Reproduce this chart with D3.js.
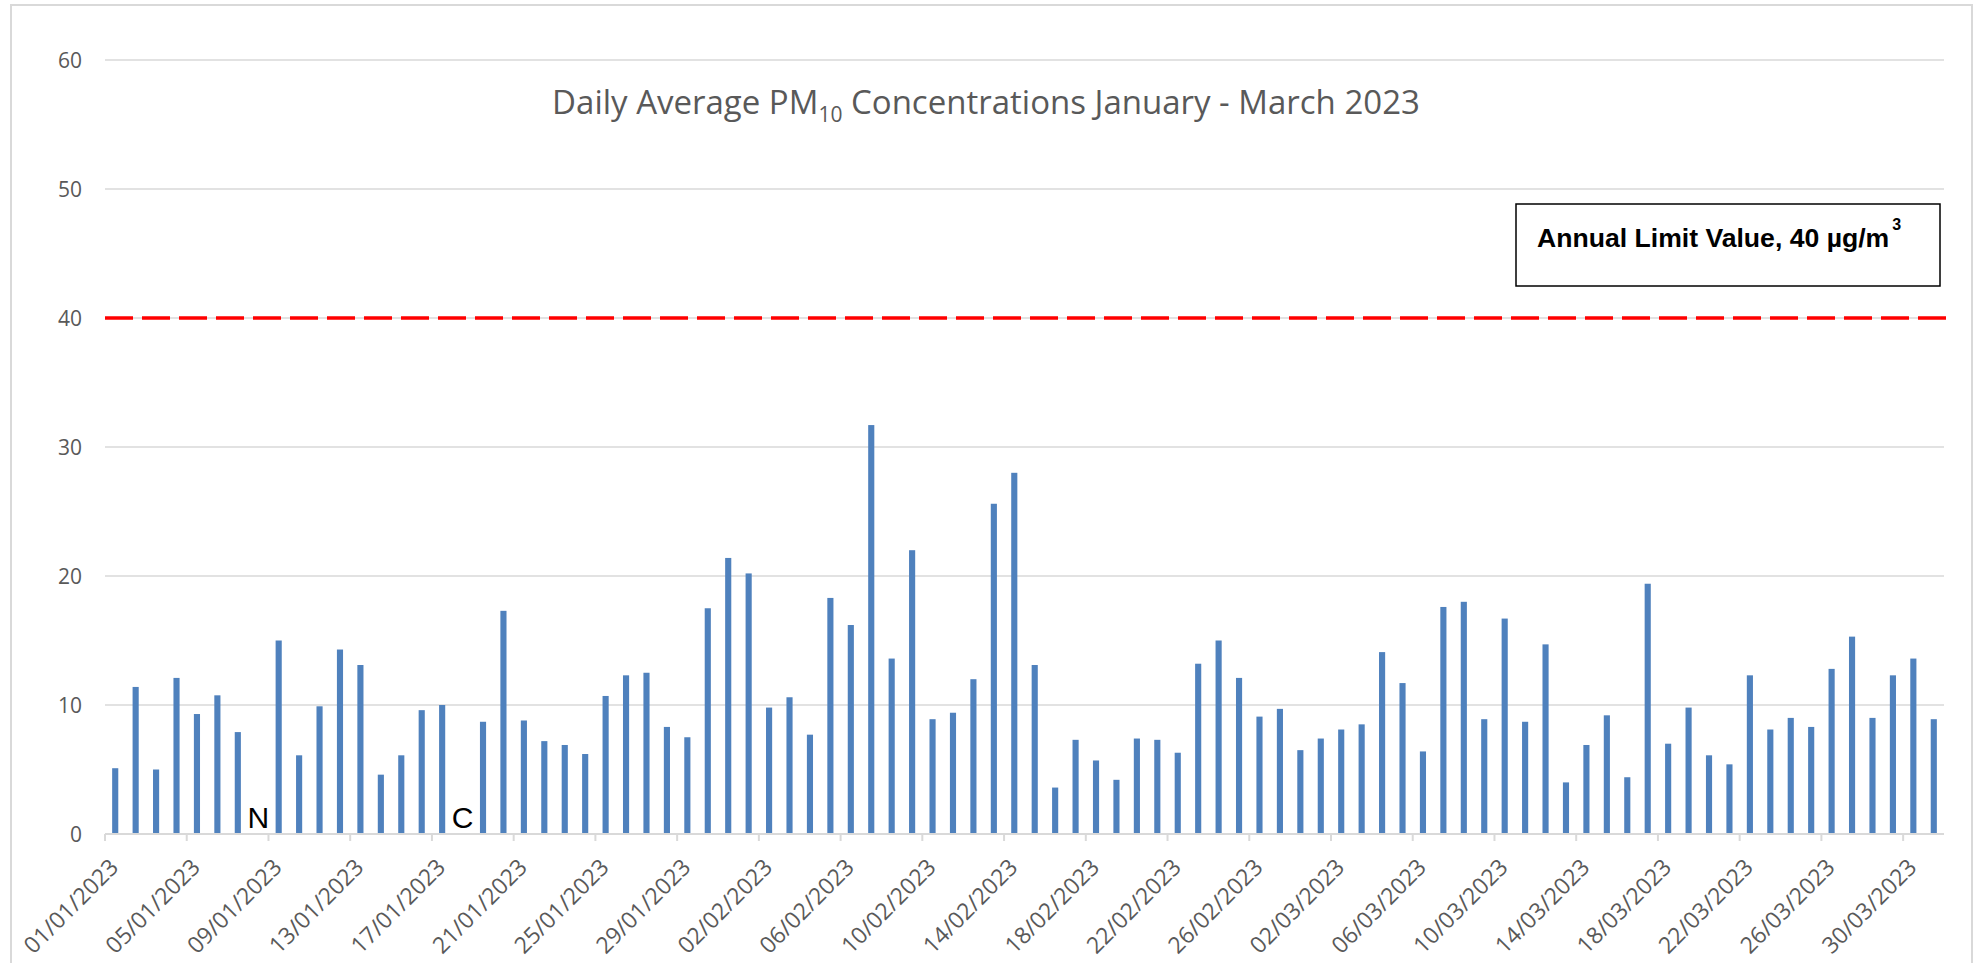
<!DOCTYPE html>
<html><head><meta charset="utf-8">
<script src="https://cdn.jsdelivr.net/npm/d3@7"></script>
<style>
html,body{margin:0;padding:0;background:#fff;overflow:hidden}
svg text{font-family:"Open Sans",sans-serif}
svg text.arial{font-family:"Liberation Sans",Arial,sans-serif}
</style></head>
<body>
<svg id="chart" width="1975" height="963"></svg>
<script>
// ---- data ----
const dates = [];
(function(){
  const days = [["01",31],["02",28],["03",31]];
  for (const [m,n] of days) for (let d=1; d<=n; d++) dates.push(String(d).padStart(2,"0")+"/"+m+"/2023");
})();
const janValues = [5.1,11.4,5.0,12.1,9.3,10.75,7.9,null,15.0,6.1,9.9,14.3,13.1,4.6,6.1,9.6,10.0,null,8.7,17.3,8.8,7.2,6.9,6.2,10.7,12.3,12.5,8.3,7.5,17.5,21.4];
const febValues = [20.2,9.8,10.6,7.7,18.3,16.2,31.7,13.6,22.0,8.9,9.4,12.0,25.6,28.0,13.1,3.6,7.3,5.7,4.2,7.4,7.3,6.3,13.2,15.0,12.1,9.1,9.7,6.5];
const marValues = [7.4,8.1,8.5,14.1,11.7,6.4,17.6,18.0,8.9,16.7,8.7,14.7,4.0,6.9,9.2,4.4,19.4,7.0,9.8,6.1,5.4,12.3,8.1,9.0,8.3,12.8,15.3,9.0,12.3,13.6,8.9];
const values = janValues.concat(febValues, marValues);
const flags = [{date:"08/01/2023", code:"N"},{date:"18/01/2023", code:"C"}];
const yTicks = [0,10,20,30,40,50,60];
const limitValue = 40;
const titleMain = "Daily Average PM";
const titleSub = "10";
const titleRest = " Concentrations January - March 2023";
const limitLabel = "Annual Limit Value, 40 µg/m";
const limitSup = "3";

// ---- layout ----
const svg = d3.select("#chart");
const L = 105, R = 1944, T = 60, B = 834;
const x = d3.scaleBand().domain(dates).range([L, R]).paddingInner(0.7).paddingOuter(0.35);
const y = d3.scaleLinear().domain([0, 60]).range([B, T]);
const step = x.step();

// outer border
svg.append("rect").attr("x",11).attr("y",5).attr("width",1961).attr("height",970)
  .attr("fill","#fff").attr("stroke","#d9d9d9").attr("stroke-width",2);

// gridlines
svg.append("g").selectAll("line").data(yTicks).join("line")
  .attr("x1",L).attr("x2",R).attr("y1",d=>y(d)).attr("y2",d=>y(d))
  .attr("stroke","#d9d9d9").attr("stroke-width",1.5);

// y labels
svg.append("g").selectAll("text").data(yTicks).join("text")
  .attr("x",82).attr("y",d=>y(d)).attr("dy","0.36em").attr("text-anchor","end")
  .attr("fill","#595959").attr("font-size",21).text(d=>d);

// bars
svg.append("g").selectAll("rect").data(dates.map((d,i)=>({d, v: values[i]})).filter(o=>o.v!=null)).join("rect")
  .attr("x",o=>x(o.d)).attr("width",x.bandwidth())
  .attr("y",o=>y(o.v)).attr("height",o=>y(0)-y(o.v))
  .attr("fill","#4f81bd");

// x axis
svg.append("line").attr("x1",L).attr("x2",R).attr("y1",B).attr("y2",B)
  .attr("stroke","#d9d9d9").attr("stroke-width",2);
const labelDates = dates.filter((d,i)=>i%4===0);
svg.append("g").selectAll("line").data(labelDates).join("line")
  .attr("x1",d=>x(d)+x.bandwidth()/2-step/2).attr("x2",d=>x(d)+x.bandwidth()/2-step/2)
  .attr("y1",B).attr("y2",B+7).attr("stroke","#d9d9d9").attr("stroke-width",2);
svg.append("g").selectAll("text").data(labelDates).join("text")
  .attr("transform",d=>`translate(${x(d)+x.bandwidth()/2-1},${B+29}) rotate(-45)`)
  .attr("text-anchor","end").attr("dy","0.35em")
  .attr("fill","#595959").attr("font-size",23).text(d=>d);

// N / C flags
svg.append("g").selectAll("text").data(flags).join("text")
  .attr("class","arial")
  .attr("x",f=>x(f.date)+x.bandwidth()/2).attr("y",828).attr("text-anchor","middle")
  .attr("font-size",30).attr("fill","#000")
  .text(f=>f.code);

// limit line
svg.append("line").attr("x1",L).attr("x2",1953).attr("y1",y(limitValue)).attr("y2",y(limitValue))
  .attr("stroke","#ff0000").attr("stroke-width",3.5).attr("stroke-dasharray","28,9");

// title
const title = svg.append("text").attr("x",986).attr("y",114).attr("text-anchor","middle")
  .attr("fill","#595959").attr("font-size",33);
title.append("tspan").text(titleMain);
title.append("tspan").attr("font-size",21).attr("dy",8).text(titleSub);
title.append("tspan").attr("dy",-8).text(titleRest);

// annotation box
svg.append("rect").attr("x",1516).attr("y",204).attr("width",424).attr("height",82)
  .attr("fill","#fff").attr("stroke","#000").attr("stroke-width",1.5);
const ann = svg.append("text").attr("class","arial").attr("x",1537).attr("y",247)
  .attr("font-weight","bold").attr("font-size",26.6).attr("fill","#000");
ann.append("tspan").text(limitLabel);
ann.append("tspan").attr("font-size",16).attr("dy",-17).attr("dx",3).text(limitSup);
</script>
</body></html>
